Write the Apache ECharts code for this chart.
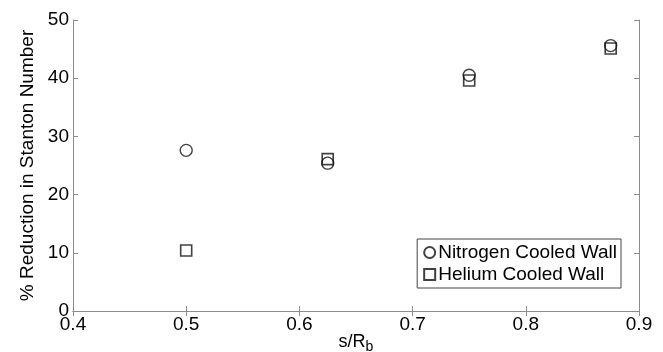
<!DOCTYPE html>
<html>
<head>
<meta charset="UTF-8">
<title>Stanton Number Reduction</title>
<script src="https://cdn.jsdelivr.net/npm/echarts@6/dist/echarts.min.js"></script>
<style>
html, body { margin: 0; padding: 0; background: #fff; }
#chart { width: 663px; height: 352px; }
</style>
</head>
<body>
<div id="chart"></div>
<script>
// spacing s/Rb
var spacing = [0.5, 0.625, 0.75, 0.875];
var nitrogen = [27.6, 25.4, 40.5, 45.6];
var helium = [10.4, 26.1, 39.6, 45.1];
var xTicks = [0.4, 0.5, 0.6, 0.7, 0.8, 0.9];
var yTicks = [0, 10, 20, 30, 40, 50];

var font = 'Liberation Sans, Arial, sans-serif';
var chart = echarts.init(document.getElementById('chart'));

function pairs(ys) {
	return spacing.map(function(x, i) { return [x, ys[i]]; });
}

var axisLine = { show: true, lineStyle: { color: '#8c8c8c', width: 1 } };
var tick = { show: true, inside: true, length: 5, lineStyle: { color: '#8c8c8c' } };
var lbl = { color: '#000', fontFamily: font, fontSize: 19 };

option = {
	animation: false,
	backgroundColor: '#fff',
	grid: { left: 73, right: 24, top: 20, bottom: 41, containLabel: false, outerBoundsMode: 'none' },
	legend: {
		orient: 'vertical',
		right: 42, top: 239,
		padding: [4, 4, 4, 6],
		itemGap: 3,
		itemWidth: 11, itemHeight: 11,
		borderColor: '#444', borderWidth: 1,
		textStyle: { color: '#000', fontFamily: font, fontSize: 19, padding: [0, 0, 0, -2] },
		data: ['Nitrogen Cooled Wall', 'Helium Cooled Wall']
	},
	xAxis: [{
		type: 'value', min: xTicks[0], max: xTicks[xTicks.length - 1], interval: 0.1,
		name: 's/R{sub|b}', nameLocation: 'middle', nameGap: 19, nameMoveOverlap: false,
		nameTextStyle: { color: '#000', fontFamily: font, fontSize: 18,
			rich: { sub: { fontFamily: font, fontSize: 14, verticalAlign: 'bottom', padding: [10, 0, 0, 0] } } },
		axisLine: axisLine, axisTick: tick,
		axisLabel: Object.assign({ margin: 4, formatter: function(v) { return v.toFixed(1); } }, lbl),
		splitLine: { show: false }
	}, {
		type: 'value', position: 'top', min: xTicks[0], max: xTicks[xTicks.length - 1], interval: 0.1,
		axisLine: axisLine, axisTick: tick, axisLabel: { show: false }, splitLine: { show: false }
	}],
	yAxis: [{
		type: 'value', min: yTicks[0], max: yTicks[yTicks.length - 1], interval: 10,
		name: '% Reduction in Stanton Number', nameLocation: 'middle', nameGap: 36, nameMoveOverlap: false,
		nameTextStyle: { color: '#000', fontFamily: font, fontSize: 19 },
		axisLine: axisLine, axisTick: tick,
		axisLabel: Object.assign({ margin: 4 }, lbl),
		splitLine: { show: false }
	}, {
		type: 'value', position: 'right', min: yTicks[0], max: yTicks[yTicks.length - 1], interval: 10,
		axisLine: axisLine, axisTick: tick, axisLabel: { show: false }, splitLine: { show: false }
	}],
	series: [{
		name: 'Nitrogen Cooled Wall',
		type: 'scatter',
		symbol: 'circle', symbolSize: 12,
		itemStyle: { color: 'rgba(255,255,255,0)', borderColor: '#111', borderWidth: 1.4 },
		data: pairs(nitrogen)
	}, {
		name: 'Helium Cooled Wall',
		type: 'scatter',
		symbol: 'rect', symbolSize: 11,
		itemStyle: { color: 'rgba(255,255,255,0)', borderColor: '#111', borderWidth: 1.6 },
		data: pairs(helium)
	}]
};

chart.setOption(option);
</script>
</body>
</html>
